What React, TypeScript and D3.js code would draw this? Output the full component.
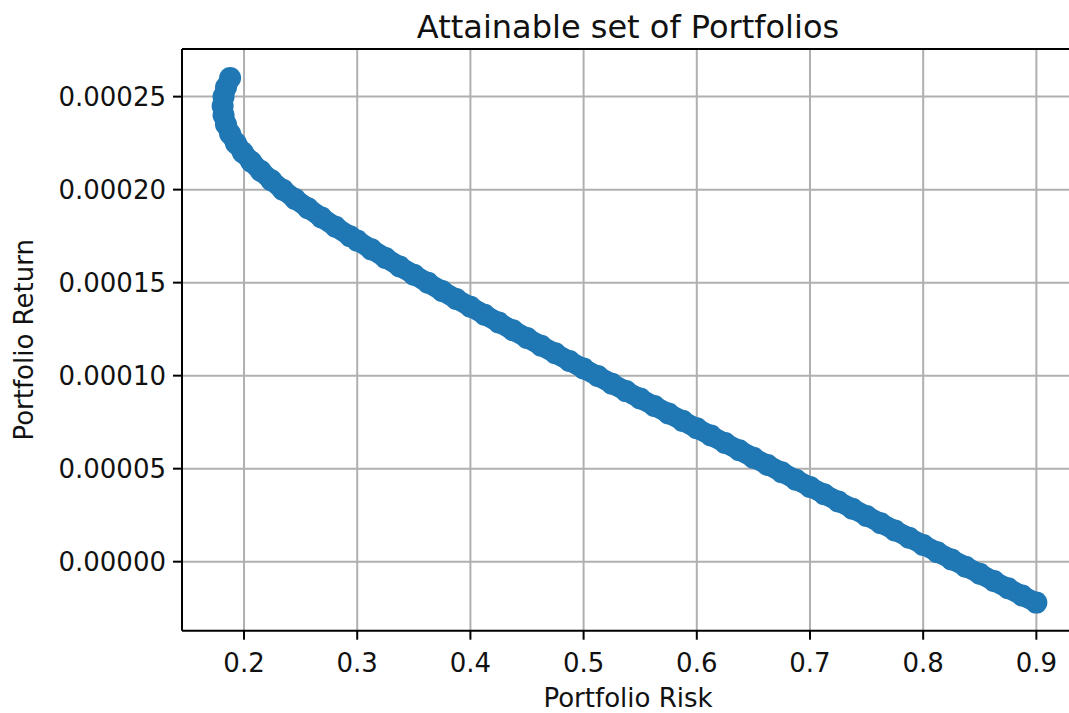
import React from "react";
import * as d3 from "d3";

// Portfolio risk (x) and return (y)
const risk: number[] = [
  0.1877, 0.1841, 0.1819, 0.1811, 0.1819, 0.1841, 0.1877, 0.1928, 0.199, 0.2064,
  0.2148, 0.2241, 0.2342, 0.2451, 0.2565, 0.2684, 0.2808, 0.2936,
  0.3, 0.3125, 0.325, 0.3375, 0.35, 0.3625, 0.375, 0.3875, 0.4, 0.4125, 0.425,
  0.4375, 0.45, 0.4625, 0.475, 0.4875, 0.5, 0.5125, 0.525, 0.5375, 0.55, 0.5625,
  0.575, 0.5875, 0.6, 0.6125, 0.625, 0.6375, 0.65, 0.6625, 0.675, 0.6875, 0.7,
  0.7125, 0.725, 0.7375, 0.75, 0.7625, 0.775, 0.7875, 0.8, 0.8125, 0.825, 0.8375,
  0.85, 0.8625, 0.875, 0.8875, 0.9,
];
const ret: number[] = [
  0.00026, 0.000255, 0.00025, 0.000245, 0.00024, 0.000235, 0.00023, 0.000225, 0.00022, 0.000215,
  0.00021, 0.000205, 0.0002, 0.000195, 0.00019, 0.000185, 0.00018, 0.000175,
  0.0001726, 0.0001679, 0.0001633, 0.0001587, 0.0001543, 0.0001499, 0.0001455, 0.0001412, 0.000137, 0.0001327, 0.0001286,
  0.0001244, 0.0001202, 0.0001161, 0.000112, 0.0001079, 0.0001038, 0.0000998, 0.0000957, 0.0000917, 0.0000877, 0.0000837,
  0.0000797, 0.0000757, 0.0000717, 0.0000678, 0.0000638, 0.0000599, 0.0000559, 0.000052, 0.0000481, 0.0000441, 0.0000402,
  0.0000363, 0.0000324, 0.0000285, 0.0000246, 0.0000207, 0.0000168, 0.0000129, 0.000009, 0.0000051, 0.0000012, -0.0000027,
  -0.0000065, -0.0000104, -0.0000143, -0.0000182, -0.000022,
];

const xTicks: number[] = [0.2, 0.3, 0.4, 0.5, 0.6, 0.7, 0.8, 0.9];
const yTicks: number[] = [0, 0.00005, 0.0001, 0.00015, 0.0002, 0.00025];
const xTickLabels: string[] = ["0.2", "0.3", "0.4", "0.5", "0.6", "0.7", "0.8", "0.9"];
const yTickLabels: string[] = ["0.00000", "0.00005", "0.00010", "0.00015", "0.00020", "0.00025"];

const title = "Attainable set of Portfolios";
const xLabel = "Portfolio Risk";
const yLabel = "Portfolio Return";

const W = 1069;
const H = 713;
const left = 182;
const right = 1077;
const top = 49;
const bottom = 630.7;

const font = "'DejaVu Sans', sans-serif";
const color = "#1f77b4";
const textColor = "#111";

export default function App() {
  const x = d3.scaleLinear().domain([0.1452, 0.9359]).range([left, right]);
  const y = d3.scaleLinear().domain([-0.0000371, 0.0002756]).range([bottom, top]);
  const pts = risk.map((r, i) => ({ r, v: ret[i] }));
  const band = d3
    .line<{ r: number; v: number }>()
    .x((d) => x(d.r))
    .y((d) => y(d.v))(pts) as string;
  return (
    <svg
      width={W}
      height={H}
      style={{ position: "absolute", left: 0, top: 0, overflow: "hidden" }}
      fontFamily={font}
    >
      <rect x={0} y={0} width={W} height={H} fill="#fff" />
      {/* grid */}
      {xTicks.map((t) => (
        <line key={"gx" + t} x1={x(t)} x2={x(t)} y1={top} y2={bottom} stroke="#b0b0b0" strokeWidth={2} />
      ))}
      {yTicks.map((t) => (
        <line key={"gy" + t} x1={left} x2={right} y1={y(t)} y2={y(t)} stroke="#b0b0b0" strokeWidth={2} />
      ))}
      {/* scatter points (dense cloud forming a band) */}
      <path d={band} fill="none" stroke={color} strokeWidth={20} strokeLinejoin="round" strokeLinecap="round" />
      {pts.map((p, i) => (
        <circle key={i} cx={x(p.r)} cy={y(p.v)} r={11} fill={color} />
      ))}
      {/* spines */}
      <line x1={left} x2={left} y1={top} y2={bottom} stroke="#000" strokeWidth={2} />
      <line x1={left} x2={right} y1={top} y2={top} stroke="#000" strokeWidth={2} />
      <line x1={left} x2={right} y1={bottom} y2={bottom} stroke="#000" strokeWidth={2} />
      <line x1={right} x2={right} y1={top} y2={bottom} stroke="#000" strokeWidth={2} />
      {/* x ticks */}
      {xTicks.map((t, i) => (
        <g key={"xt" + t}>
          <line x1={x(t)} x2={x(t)} y1={bottom} y2={bottom + 9} stroke="#000" strokeWidth={2} />
          <text x={x(t)} y={672} textAnchor="middle" fontSize={26} fill={textColor}>
            {xTickLabels[i]}
          </text>
        </g>
      ))}
      {/* y ticks */}
      {yTicks.map((t, i) => (
        <g key={"yt" + t}>
          <line x1={left - 9} x2={left} y1={y(t)} y2={y(t)} stroke="#000" strokeWidth={2} />
          <text x={166} y={y(t) + 9} textAnchor="end" fontSize={26} fill={textColor}>
            {yTickLabels[i]}
          </text>
        </g>
      ))}
      <text x={628} y={38} textAnchor="middle" fontSize={32} fill={textColor}>
        {title}
      </text>
      <text x={628} y={707} textAnchor="middle" fontSize={26} fill={textColor}>
        {xLabel}
      </text>
      <text
        transform={`translate(33, ${(top + bottom) / 2}) rotate(-90)`}
        textAnchor="middle"
        fontSize={26}
        fill={textColor}
      >
        {yLabel}
      </text>
    </svg>
  );
}
